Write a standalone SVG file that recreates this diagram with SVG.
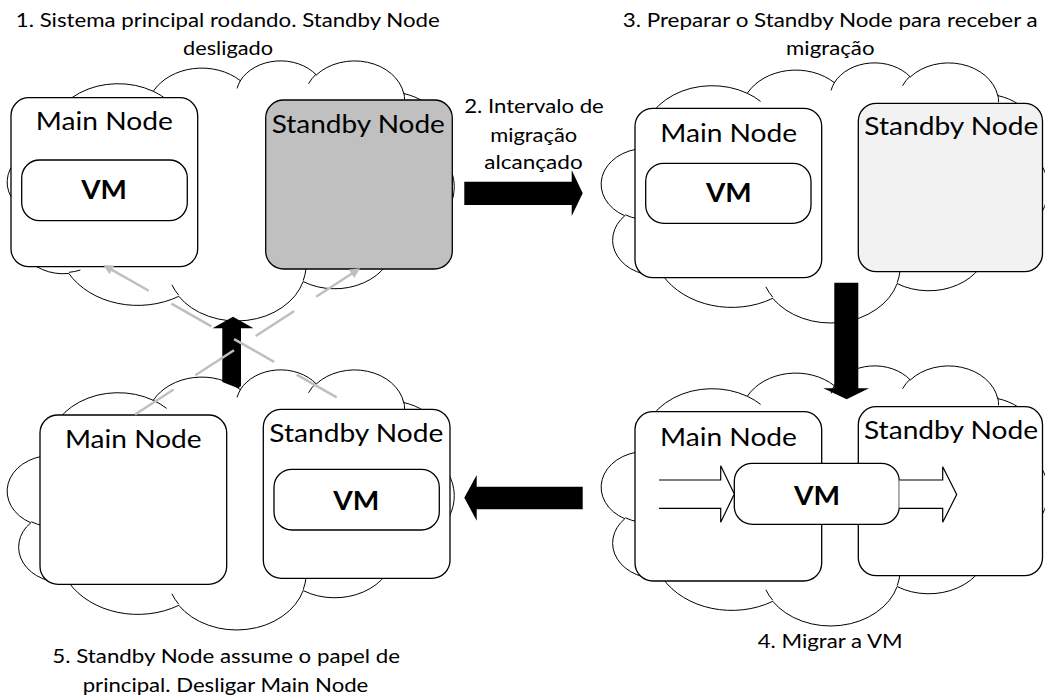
<svg xmlns="http://www.w3.org/2000/svg" xmlns:xlink="http://www.w3.org/1999/xlink" width="1045" height="697" viewBox="0 0 1045 697">
<style>
.t{font-family:Lato,"Open Sans","Liberation Sans",sans-serif;fill:#000;text-anchor:middle}
.lbl{font-size:25px}
.vmt{font-size:27.5px;font-weight:bold}
.ttl{font-size:18.5px}
.nd{fill:#fff;stroke:#000;stroke-width:1.3}
.gray{fill:#C0C0C0}
.light{fill:#F2F2F2}
.blk{fill:#000;stroke:none}
.barrow{fill:#fff;stroke:#000;stroke-width:1.2}
.gl{fill:none;stroke:#BFBFBF;stroke-width:2.5;stroke-dasharray:46 26}
</style>
<defs>
<path id="cloudOut" fill="#fff" stroke="#000" stroke-width="1" vector-effect="non-scaling-stroke" d="M3900,14370 A6753,9190 0 0 1 14005,5202 A5333,7267 0 0 1 22458,3434 A4365,5945 0 0 1 29836,2486 A4857,6595 0 0 1 38321,5580 A5333,7273 0 0 1 41822,15464 A6775,9220 0 0 1 37407,30205 A5785,7867 0 0 1 28558,36816 A6752,9215 0 0 1 16482,39266 A7720,10543 0 0 1 5804,35472 A4360,5918 0 0 1 2115,25547 A4345,5945 0 0 1 3900,14370 Z"/>
<path id="cloudIn" fill="none" stroke="#000" stroke-width="1" vector-effect="non-scaling-stroke" d="M4693,26177 A4345,5945 0 0 1 2159,25380 M6928,34899 A4360,5918 0 0 1 5820,35281 M16478,39090 A6752,9215 0 0 1 15811,37351 M28827,34751 A6752,9215 0 0 1 28560,36660 M34129,22954 A5785,7867 0 0 1 37381,30090 M41798,15354 A5333,7273 0 0 1 40350,18030 M38324,5426 A4857,6595 0 0 1 38400,6690 M29078,3952 A4857,6595 0 0 1 29820,2340 M22141,4720 A4365,5945 0 0 1 22500,3330 M14000,5192 A6753,9190 0 0 1 15302,6543 M4127,15789 A6753,9190 0 0 0 4591,17249"/>
<g id="cloudShape"><use href="#cloudOut"/><use href="#cloudIn"/></g>
<marker id="gh" markerUnits="userSpaceOnUse" markerWidth="11" markerHeight="10" refX="10" refY="5" orient="auto" viewBox="0 0 10 10"><path d="M0,0 L10,5 L0,10 Z" fill="#BFBFBF"/></marker>
</defs>

<!-- Step 1 -->
<g id="step1">
<text class="t ttl" x="227.8" y="27.3" textLength="424" lengthAdjust="spacingAndGlyphs">1. Sistema principal rodando. Standby Node</text>
<text class="t ttl" x="228" y="55" textLength="90" lengthAdjust="spacingAndGlyphs">desligado</text>
<use href="#cloudShape" transform="translate(9,60) scale(0.0103009,0.0060185)"/>
<g id="s1-main"><rect class="nd" x="11" y="97.7" width="186.7" height="169" rx="18"/>
<text class="t lbl" x="104.3" y="130" textLength="137" lengthAdjust="spacingAndGlyphs">Main Node</text></g>
<g id="s1-vm"><rect class="nd" x="21.7" y="160" width="165.6" height="60.7" rx="18"/>
<text class="t vmt" x="104" y="199.3" textLength="45.7" lengthAdjust="spacingAndGlyphs">VM</text></g>
<g id="s1-standby"><rect class="nd gray" x="265.7" y="100" width="186.6" height="169" rx="18"/>
<text class="t lbl" x="358.3" y="132.5" textLength="173" lengthAdjust="spacingAndGlyphs">Standby Node</text></g>
</g>

<!-- Step 3 -->
<g id="step3">
<text class="t ttl" x="830.2" y="27.3" textLength="415" lengthAdjust="spacingAndGlyphs">3. Preparar o Standby Node para receber a</text>
<text class="t ttl" x="830.3" y="55" textLength="88.5" lengthAdjust="spacingAndGlyphs">migração</text>
<use href="#cloudShape" transform="translate(603,62) scale(0.0103009,0.0060185)"/>
<g id="s3-main"><rect class="nd" x="635" y="108.3" width="186.7" height="169.4" rx="18"/>
<text class="t lbl" x="728.7" y="141.7" textLength="137" lengthAdjust="spacingAndGlyphs">Main Node</text></g>
<g id="s3-vm"><rect class="nd" x="645.7" y="163.3" width="165.3" height="60" rx="18"/>
<text class="t vmt" x="728.8" y="202.3" textLength="45.7" lengthAdjust="spacingAndGlyphs">VM</text></g>
<g id="s3-standby"><rect class="nd light" x="858.3" y="103.3" width="184.2" height="168.4" rx="18"/>
<text class="t lbl" x="951.3" y="135" textLength="174" lengthAdjust="spacingAndGlyphs">Standby Node</text></g>
</g>

<!-- Step 4 -->
<g id="step4">
<use href="#cloudShape" transform="translate(603,365) scale(0.0103009,0.0060185)"/>
<g id="s4-main"><rect class="nd" x="635" y="411.7" width="186.7" height="169.3" rx="18"/>
<text class="t lbl" x="728.5" y="445.7" textLength="137" lengthAdjust="spacingAndGlyphs">Main Node</text></g>
<g id="s4-standby"><rect class="nd" x="858.3" y="406.7" width="184.2" height="169" rx="18"/>
<text class="t lbl" x="951" y="439" textLength="174" lengthAdjust="spacingAndGlyphs">Standby Node</text></g>
<g id="s4-vm"><rect class="nd" x="734.3" y="463.3" width="165" height="61" rx="18"/>
<text class="t vmt" x="817" y="505" textLength="46" lengthAdjust="spacingAndGlyphs">VM</text></g>
<text class="t ttl" x="830.2" y="648.3" textLength="145" lengthAdjust="spacingAndGlyphs">4. Migrar a VM</text>
</g>

<!-- Step 5 -->
<g id="step5">
<use href="#cloudShape" transform="translate(9,369) scale(0.0103009,0.0060185)"/>
<g id="s5-main"><rect class="nd" x="40" y="415" width="186.7" height="169.3" rx="18"/>
<text class="t lbl" x="133.3" y="448.3" textLength="136.7" lengthAdjust="spacingAndGlyphs">Main Node</text></g>
<g id="s5-standby"><rect class="nd" x="263.3" y="409.3" width="186.7" height="169" rx="18"/>
<text class="t lbl" x="356.3" y="441.7" textLength="174" lengthAdjust="spacingAndGlyphs">Standby Node</text></g>
<g id="s5-vm"><rect class="nd" x="274" y="469.3" width="165.3" height="60.7" rx="18"/>
<text class="t vmt" x="356.3" y="510" textLength="46" lengthAdjust="spacingAndGlyphs">VM</text></g>
<text class="t ttl" x="226.2" y="663.3" textLength="347.7" lengthAdjust="spacingAndGlyphs">5. Standby Node assume o papel de</text>
<text class="t ttl" x="225.5" y="691.7" textLength="285.6" lengthAdjust="spacingAndGlyphs">principal. Desligar Main Node</text>
</g>

<!-- Step 2 label -->
<g id="step2">
<text class="t ttl" x="534" y="113.3" textLength="139.7" lengthAdjust="spacingAndGlyphs">2. Intervalo de</text>
<text class="t ttl" x="533.7" y="141.5" textLength="87" lengthAdjust="spacingAndGlyphs">migração</text>
<text class="t ttl" x="533.5" y="169" textLength="98.4" lengthAdjust="spacingAndGlyphs">alcançado</text>
</g>

<!-- Connectors -->
<g id="connectors">
<polygon class="blk" points="464.3,181.7 571.7,181.7 571.7,170 582.7,193.3 571.7,216 571.7,205 464.3,205"/>
<polygon class="blk" points="834.3,282.7 858.3,282.7 858.3,388.3 869,388.3 846.7,399.3 823.3,388.3 834.3,388.3"/>
<polygon class="blk" points="582.7,486.7 582.7,509.3 476.7,509.3 476.7,520.7 464.3,497.7 476.7,475 476.7,486.7"/>
<polygon class="blk" points="222.3,382 222.3,328.3 212.5,328.3 233,316.7 253.5,328.3 241,328.3 241,386 238.3,388.3"/>
<path class="barrow" d="M659,480 H720.7 V465.7 L734.3,494 L720.7,522.3 V508.3 H659"/>
<path class="barrow" d="M899.3,480 H942.7 V466.7 L956.7,494.5 L942.7,522.3 V508.3 H899.3"/>
<path class="gl" d="M135,414.5 L360,268.3" marker-end="url(#gh)"/>
<path class="gl" d="M336.7,397.3 L103.3,265" marker-end="url(#gh)"/>
</g>
</svg>
